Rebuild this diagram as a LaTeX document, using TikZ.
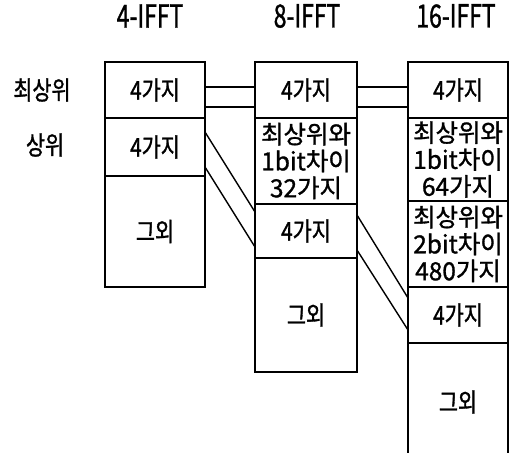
\documentclass[tikz,border=0pt]{standalone}
\usepackage{fontspec}
\setmainfont{Noto Sans CJK KR}
\newfontfamily\cellfont[FakeStretch=0.8, FakeBold=1.2]{Noto Sans CJK KR}
\newfontfamily\widefont[FakeStretch=0.98, FakeBold=1.2]{Noto Sans CJK KR}
\newfontfamily\headfont[FakeStretch=0.72, FakeBold=1.0]{Noto Sans CJK KR}
\usetikzlibrary{positioning}
\tikzset{
  cell/.style={rectangle, draw, line width=1.6bp, outer sep=0pt, inner sep=1pt,
    align=center, minimum width=100bp, font=\cellfont\fontsize{26}{25}\selectfont},
  multicell/.style={cell, font=\widefont\fontsize{25}{27}\selectfont},
  head/.style={font=\headfont\fontsize{32}{34}\selectfont, inner sep=0pt},
  rowlbl/.style={font=\cellfont\fontsize{26}{28}\selectfont, inner sep=0pt},
  link/.style={line width=1.4bp},
}

\begin{document}
\begin{tikzpicture}[x=1bp, y=-1bp]
  \useasboundingbox (0,0) rectangle (509,453);
  \clip (0,0) rectangle (509,453);

  % 4-IFFT
  \node[cell, minimum height=56bp, anchor=north west] (c4top) at (105,62) {4가지};
  \node[cell, minimum height=58bp, below=0pt of c4top] (c4up) {4가지};
  \node[cell, minimum height=111bp, below=0pt of c4up] (c4rest) {그외};

  % 8-IFFT
  \node[cell, minimum width=102bp, minimum height=56bp, anchor=north west] (c8top) at (255,62) {4가지};
  \node[multicell, minimum width=102bp, minimum height=86bp, below=0pt of c8top] (c8one) {최상위와\\1bit차이\\32가지};
  \node[cell, minimum width=102bp, minimum height=54bp, below=0pt of c8one] (c8four) {4가지};
  \node[cell, minimum width=102bp, minimum height=114bp, below=0pt of c8four] (c8rest) {그외};

  % 16-IFFT
  \node[cell, minimum height=56bp, anchor=north west] (c16top) at (408,62) {4가지};
  \node[multicell, minimum height=83bp, below=0pt of c16top] (c16one) {최상위와\\1bit차이\\64가지};
  \node[multicell, minimum height=86bp, below=0pt of c16one] (c16two) {최상위와\\2bit차이\\480가지};
  \node[cell, minimum height=56bp, below=0pt of c16two] (c16four) {4가지};
  \node[cell, minimum height=118bp, below=0pt of c16four] (c16rest) {그외};

  % titles and row labels
  \node[head] (h4) at (150,16) {4-IFFT};
  \node[head] (h8) at (307,16) {8-IFFT};
  \node[head] (h16) at (456,16) {16-IFFT};
  \node[rowlbl] (rtop) at (42,90) {최상위};
  \node[rowlbl] (rup) at (45,145) {상위};

  % links
  \draw[link] ([yshift=3bp]c4top.east) -- ([yshift=3bp]c8top.west);
  \draw[link] ([yshift=-17bp]c4top.east) -- ([yshift=-17bp]c8top.west);
  \draw[link] ([yshift=3bp]c8top.east) -- ([yshift=3bp]c16top.west);
  \draw[link] ([yshift=-17bp]c8top.east) -- ([yshift=-17bp]c16top.west);
  \draw[link] ([yshift=-14bp]c4up.north east) -- ([yshift=-8bp]c8four.north west);
  \draw[link] ([yshift=-49bp]c4up.north east) -- ([yshift=-43bp]c8four.north west);
  \draw[link] ([yshift=-11bp]c8four.north east) -- ([yshift=-11bp]c16four.north west);
  \draw[link] ([yshift=-46bp]c8four.north east) -- ([yshift=-43bp]c16four.north west);
\end{tikzpicture}
\end{document}
